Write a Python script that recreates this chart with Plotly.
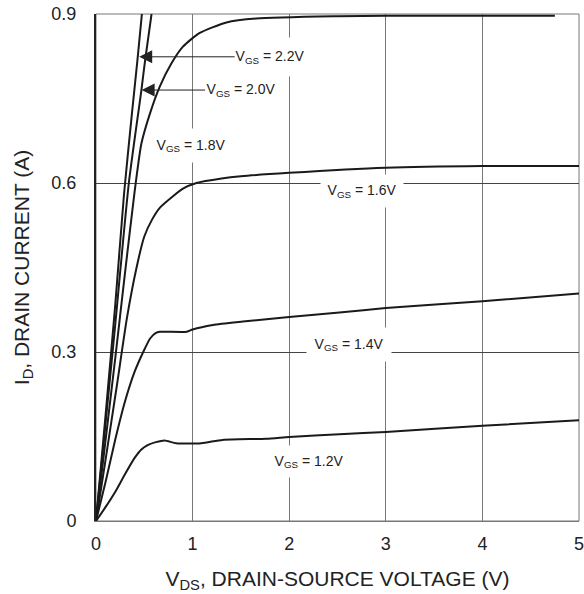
import plotly.graph_objects as go

# Output characteristics: drain current I_D (A) versus drain-source voltage V_DS (V)
vgs_2_2_vds = [0, 0.1, 0.2, 0.29, 0.37, 0.43, 0.475]
vgs_2_2_id = [0, 0.19, 0.385, 0.58, 0.72, 0.82, 0.9]

vgs_2_0_vds = [0, 0.1, 0.2, 0.34, 0.47, 0.51, 0.575]
vgs_2_0_id = [0, 0.175, 0.35, 0.6, 0.765, 0.82, 0.9]

vgs_1_8_vds = [0, 0.1, 0.2, 0.3, 0.4, 0.47, 0.56, 0.66, 0.78, 0.9, 1.07, 1.35, 1.66, 2.5, 3.0, 4.75]
vgs_1_8_id = [0, 0.145, 0.29, 0.44, 0.585, 0.67, 0.724, 0.771, 0.812, 0.842, 0.866, 0.885, 0.892, 0.896, 0.897, 0.897]

vgs_1_6_vds = [0, 0.1, 0.22, 0.32, 0.42, 0.5, 0.58, 0.66, 0.8, 0.9, 1.04, 1.3, 1.5, 2.0, 3.0, 4.0, 5.0]
vgs_1_6_id = [0, 0.11, 0.245, 0.36, 0.45, 0.505, 0.535, 0.556, 0.577, 0.59, 0.6, 0.608, 0.612, 0.618, 0.627, 0.63, 0.63]

vgs_1_4_vds = [0, 0.1, 0.2, 0.3, 0.4, 0.5, 0.56, 0.62, 0.66, 0.94, 1.0, 1.21, 1.52, 2.0, 2.52, 3.0, 4.0, 5.0]
vgs_1_4_id = [0, 0.07, 0.145, 0.212, 0.265, 0.304, 0.324, 0.334, 0.336, 0.336, 0.34, 0.348, 0.354, 0.362, 0.37, 0.378, 0.39, 0.404]

vgs_1_2_vds = [0, 0.1, 0.2, 0.3, 0.4, 0.47, 0.54, 0.62, 0.71, 0.83, 1.09, 1.31, 1.76, 2.0, 2.52, 3.0, 4.0, 5.0]
vgs_1_2_id = [0, 0.025, 0.052, 0.083, 0.112, 0.127, 0.135, 0.14, 0.143, 0.138, 0.138, 0.144, 0.146, 0.149, 0.154, 0.158, 0.169, 0.179]

x_ticks = [0, 1, 2, 3, 4, 5]
y_ticks = [0, 0.3, 0.6, 0.9]
y_tick_text = ["0", "0.3", "0.6", "0.9"]

curves = [
    (vgs_2_2_vds, vgs_2_2_id),
    (vgs_2_0_vds, vgs_2_0_id),
    (vgs_1_8_vds, vgs_1_8_id),
    (vgs_1_6_vds, vgs_1_6_id),
    (vgs_1_4_vds, vgs_1_4_id),
    (vgs_1_2_vds, vgs_1_2_id),
]

FONT = "Liberation Sans, Arial, sans-serif"
INK = "#1a1a1a"

fig = go.Figure()
for vds, i_d in curves:
    fig.add_trace(go.Scatter(
        x=vds, y=i_d, mode="lines",
        line=dict(color=INK, width=2, shape="spline", smoothing=0.6),
        showlegend=False, hoverinfo="skip",
    ))

label_font = dict(family=FONT, size=14, color="#222")

# curve labels on white boxes that break the grid lines
plain_labels = [
    ("V<sub>GS</sub> = 1.8V", 0.981, 0.667, 72, 33),
    ("V<sub>GS</sub> = 1.6V", 2.75, 0.585, 82, 32),
    ("V<sub>GS</sub> = 1.4V", 2.62, 0.314, 84, 33),
    ("V<sub>GS</sub> = 1.2V", 2.21, 0.105, 74, 31),
]
for text, x, y, w, h in plain_labels:
    fig.add_annotation(
        text=text, x=x, y=y, xref="x", yref="y", showarrow=False,
        xanchor="center", yanchor="middle", width=w, height=h,
        bgcolor="white", borderpad=0, font=label_font,
    )

# labels with arrows pointing at the steepest curves
arrow_labels = [
    ("V<sub>GS</sub> = 2.2V", 0.447, 0.824, 131, 38),
    ("V<sub>GS</sub> = 2.0V", 0.472, 0.765, 99, 18),
]
for text, x, y, ax, h in arrow_labels:
    fig.add_annotation(
        text=text, x=x, y=y, xref="x", yref="y", showarrow=True,
        ax=ax, ay=0, width=70, height=h, bgcolor="white", borderpad=0,
        arrowhead=2, arrowsize=2.6, arrowwidth=1, arrowcolor="#222",
        standoff=0, font=label_font,
    )

# plot frame
fig.add_shape(type="rect", xref="paper", yref="paper", x0=0, y0=0, x1=1, y1=1,
              line=dict(color="#777", width=1), layer="below")

fig.update_layout(
    width=584, height=594,
    margin=dict(l=96, r=5, t=14, b=73, autoexpand=False),
    paper_bgcolor="white", plot_bgcolor="white",
    font=dict(family=FONT, color="#222"),
    xaxis=dict(
        range=[0, 5], tickvals=x_ticks, showgrid=True, gridcolor="#777", gridwidth=1,
        zeroline=False, showline=True, linecolor="#777", linewidth=1,
        tickfont=dict(size=18, family=FONT, color="#222"), ticklabelstandoff=6,
        ticklabeloverflow="allow", automargin=False,
        title=dict(text="V<sub>DS</sub>, DRAIN-SOURCE VOLTAGE (V)",
                   font=dict(size=21, family=FONT, color="#222"), standoff=18),
        fixedrange=True,
    ),
    yaxis=dict(
        range=[0, 0.9], tickvals=y_ticks, ticktext=y_tick_text, showgrid=True,
        gridcolor="#444", gridwidth=1, zeroline=False,
        showline=True, linecolor="#222", linewidth=2,
        tickfont=dict(size=18, family=FONT, color="#222"), ticklabelstandoff=14,
        ticklabeloverflow="allow", automargin=False,
        title=dict(text="I<sub>D</sub>, DRAIN CURRENT (A)",
                   font=dict(size=21, family=FONT, color="#222"), standoff=16),
        fixedrange=True,
    ),
)

fig.write_html("out.html")
